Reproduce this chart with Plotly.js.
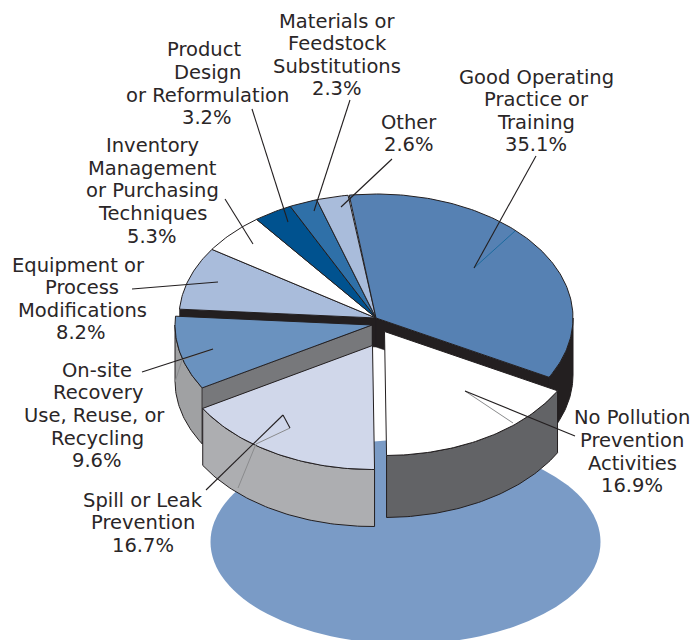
<!DOCTYPE html>
<html><head><meta charset="utf-8">
<script src="https://cdn.plot.ly/plotly-3.0.1.min.js"></script>
<style>html,body{margin:0;padding:0;background:#fff}#c{width:695px;height:640px}</style>
</head><body><div id="c"></div>
<script>
// ---- data (clockwise from the start angle) ----
const categories = ["Good Operating Practice or Training","No Pollution Prevention Activities","Spill or Leak Prevention","On-site Recovery Use, Reuse, or Recycling","Equipment or Process Modifications","Inventory Management or Purchasing Techniques","Product Design or Reformulation","Materials or Feedstock Substitutions","Other"];
const values = [35.1,16.9,16.7,9.6,8.2,5.3,3.2,2.3,2.6];
const topColors = ["#5681b3","#ffffff","#d0d7ea","#6a92bf","#a9bcdb","#ffffff","#00528f","#2f70a8","#a9bcdb"];
const wallColors = ["#231f20","#626366","#adaeb1",  "#a0a1a3",null,null,null,null,null];
const cutColors  = ["#231f20",null,null,"#77787b","#231f20",null,null,null,null];
const centersX = [376,384.5,372.5,372,376,376,376,376,376];
const centersY = [318,331.5,345.5,325,318,318,318,318,318];
const depths   = [57,62,57,56,0,0,0,0,0];
const cutDepths= [29,0,0,56,29,0,0,0,0];
const labelLines = [
 [["Good Operating",536,77],["Practice or",536,99],["Training",536,122],["35.1%",536,144]],
 [["No Pollution",632,417],["Prevention",632,440],["Activities",632,463],["16.9%",632,485]],
 [["Spill or Leak",143,500],["Prevention",143,522],["16.7%",143,545]],
 [["On-site",97,370],["Recovery",97.5,392],["Use, Reuse, or",94,415],["Recycling",97.5,438],["9.6%",97,460]],
 [["Equipment or",78,265],["Process",82,287],["Modifications",82,310],["8.2%",81,332]],
 [["Inventory",152,145],["Management",152,168],["or Purchasing",152,190],["Techniques",152,213],["5.3%",152,236]],
 [["Product",204,49],["Design",207,72],["or Reformulation",207,95],["3.2%",207,117]],
 [["Materials or",337,21],["Feedstock",337,43],["Substitutions",337,66],["2.3%",337,88]],
 [["Other",408.5,122],["2.6%",408.5,144]]
];
const leaderBlack = [[536,156,474,268],[575,436,465,391],[206,490,283,415],[283,415,290,428],[142,372,213,349],[132,289,218,282],[225,199,253,244],[252,109,288,222],[350,100,314,211],[392,159,341,207]];
const leaderBlue  = [[474,268,515,231]];
const leaderGrey  = [[465,391,513,423],[290,428,256,444],[256,444,238,488],[213,349,182,360],[182,360,175,382]];
const backdrop = {cx:405.5,cy:542,rx:195,ry:102,color:"#7a9bc6"};
const RX=197, RY=124, START=-7.8, INK="#231f20";

// ---- geometry from the values ----
const rad=d=>d*Math.PI/180;
const ptX=(i,a)=>centersX[i]+RX*Math.sin(rad(a));
const ptY=(i,a)=>centersY[i]-RY*Math.cos(rad(a));
let acc=START; const ranges=values.map(v=>{const r=[acc,acc+v*3.6];acc=r[1];return r;});
function arc(i,a0,a1,dy){const n=Math.max(2,Math.ceil(Math.abs(a1-a0)));const X=[],Y=[];
  for(let k=0;k<=n;k++){const a=a0+(a1-a0)*k/n;X.push(ptX(i,a));Y.push(ptY(i,a)+dy);}return [X,Y];}
const poly=(X,Y,fill,w)=>({type:"scatter",mode:"lines",x:X.concat(X[0]),y:Y.concat(Y[0]),fill:"toself",fillcolor:fill,
  line:{color:INK,width:w===undefined?1:w},hoverinfo:"skip",showlegend:false});
function wallFace(i){const [a0,a1]=ranges[i];const s=Math.max(a0,90),e=Math.min(a1,270);
  const [X1,Y1]=arc(i,s,e,0);const [X2,Y2]=arc(i,e,s,depths[i]);return poly(X1.concat(X2),Y1.concat(Y2),wallColors[i]);}
function cutFace(i,a){const ox=ptX(i,a),oy=ptY(i,a),d=cutDepths[i],cx=centersX[i],cy=centersY[i];
  return poly([cx,ox,ox,cx],[cy,oy,oy+d,cy+d],cutColors[i],0.5);}
function topFace(i){const [X,Y]=arc(i,ranges[i][0],ranges[i][1],0);return poly([centersX[i]].concat(X),[centersY[i]].concat(Y),topColors[i]);}

const traces=[ cutFace(4,ranges[4][0]), cutFace(0,ranges[0][1]), wallFace(0) ];
[4,5,6,7,8,0].forEach(i=>traces.push(topFace(i)));
traces.push(wallFace(1),topFace(1),wallFace(3),cutFace(3,ranges[3][0]),topFace(3),wallFace(2),topFace(2));

const seg=(a,c,w)=>a.map(s=>({type:"line",x0:s[0],y0:s[1],x1:s[2],y1:s[3],xref:"x",yref:"y",line:{color:c,width:w},layer:"above"}));
const shapes=[{type:"circle",layer:"below",xref:"x",yref:"y",x0:backdrop.cx-backdrop.rx,x1:backdrop.cx+backdrop.rx,y0:backdrop.cy-backdrop.ry,y1:backdrop.cy+backdrop.ry,fillcolor:backdrop.color,line:{width:0}}]
 .concat(seg(leaderGrey,"#8a8b8d",1),seg(leaderBlue,"#1c6a9e",1),seg(leaderBlack,INK,1.1));
const annotations=[];
labelLines.forEach(block=>block.forEach(l=>annotations.push({x:l[1],y:l[2],text:l[0],xref:"x",yref:"y",showarrow:false,xanchor:"center",yanchor:"middle",
  font:{family:"DejaVu Sans, sans-serif",size:19.5,color:"#2a2627"}})));
Plotly.newPlot("c",traces,{width:695,height:640,margin:{l:0,r:0,t:0,b:0},paper_bgcolor:"#fff",plot_bgcolor:"rgba(0,0,0,0)",showlegend:false,
 xaxis:{range:[0,695],visible:false,fixedrange:true},yaxis:{range:[640,0],visible:false,fixedrange:true},shapes,annotations},{displayModeBar:false,staticPlot:true});
</script></body></html>
